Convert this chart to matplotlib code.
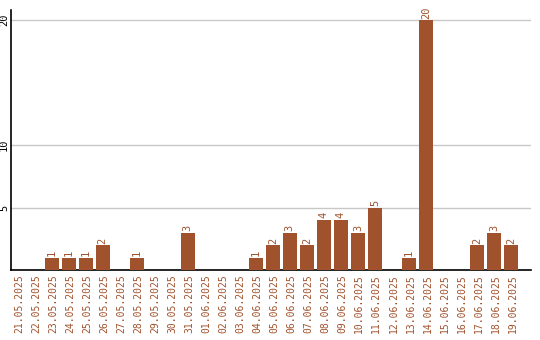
import matplotlib
matplotlib.use("Agg")
import matplotlib.pyplot as plt

dates = ["21.05.2025","22.05.2025","23.05.2025","24.05.2025","25.05.2025","26.05.2025",
         "27.05.2025","28.05.2025","29.05.2025","30.05.2025","31.05.2025","01.06.2025",
         "02.06.2025","03.06.2025","04.06.2025","05.06.2025","06.06.2025","07.06.2025",
         "08.06.2025","09.06.2025","10.06.2025","11.06.2025","12.06.2025","13.06.2025",
         "14.06.2025","15.06.2025","16.06.2025","17.06.2025","18.06.2025","19.06.2025"]
values = [0,0,1,1,1,2,0,1,0,0,3,0,0,0,1,2,3,2,4,4,3,5,0,1,20,0,0,2,3,2]
yticks = [5, 10, 20]

bar_color = "#A0522D"
W, H = 540, 340
fig = plt.figure(figsize=(W/100, H/100), dpi=100)
ax = fig.add_axes([10.5/W, (H-270)/H, 520/W, 260/H])

x = list(range(len(dates)))
ax.bar(x, values, width=14/17, align="edge", color=bar_color, zorder=3)
for xi, v in zip(x, values):
    if v > 0:
        ax.text(xi + 7/17, v + 0.12, str(v), rotation=90, ha="center", va="bottom",
                color=bar_color, fontsize=7.5, family="DejaVu Sans Mono")

ax.set_xlim(0, 519.5/17)
ax.set_ylim(0, 20.8)
ax.set_yticks(yticks)
ax.set_yticklabels([str(t) for t in yticks], rotation=90, va="center",
                   fontsize=7.5, family="DejaVu Sans Mono")
ax.set_xticks([xi + 8.5/17 for xi in x])
ax.set_xticklabels(dates, rotation=90, color=bar_color, fontsize=7,
                   family="DejaVu Sans Mono")
ax.tick_params(axis="both", length=0, pad=3)
ax.tick_params(axis="y", pad=1)
ax.grid(axis="y", color="#c8c8c8", linewidth=1, zorder=0)
for s in ["top", "right"]:
    ax.spines[s].set_visible(False)
ax.spines["left"].set_linewidth(1.2)
ax.spines["bottom"].set_linewidth(1.2)

fig.savefig("out.png", dpi=100)
